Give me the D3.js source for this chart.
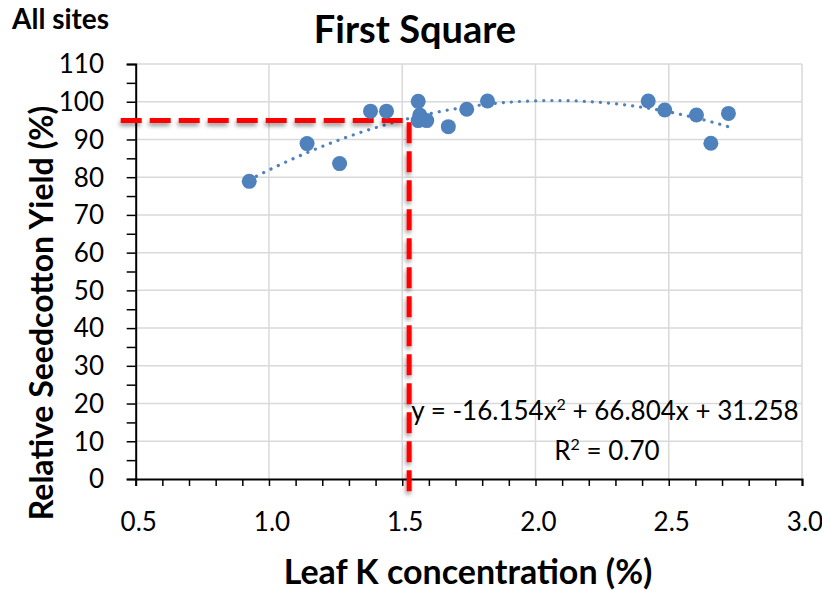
<!DOCTYPE html>
<html>
<head>
<meta charset="utf-8">
<script src="https://cdn.jsdelivr.net/npm/d3@7/dist/d3.min.js"></script>
<style>
  html, body { margin: 0; padding: 0; background: #fff; }
  svg { display: block; font-family: Lato, "Open Sans", sans-serif; }
</style>
</head>
<body>
<svg id="chart" width="822" height="590"></svg>
<script>
// ---- data ----
const leafK = [0.926, 1.143, 1.265, 1.381, 1.441, 1.560, 1.566, 1.592, 1.560, 1.673, 1.742, 1.820, 2.423, 2.485, 2.604, 2.658, 2.724];
const relYield = [78.9, 88.9, 83.6, 97.5, 97.5, 100.1, 96.5, 95.0, 95.0, 93.4, 98.0, 100.2, 100.2, 97.8, 96.5, 89.0, 96.9];
const trendCoef = [-16.154, 66.804, 31.258]; // a, b, c of y = ax^2 + bx + c
const rSquared = "0.70";
const criticalK = 1.526;
const criticalYield = 95;
const xTicks = [0.5, 1.0, 1.5, 2.0, 2.5, 3.0];
const yTicks = [0, 10, 20, 30, 40, 50, 60, 70, 80, 90, 100, 110];
const titleText = "First Square";
const cornerText = "All sites";
const xTitle = "Leaf K concentration (%)";
const yTitle = "Relative Seedcotton Yield (%)";

// ---- layout ----
const svg = d3.select("#chart");
const x = d3.scaleLinear().domain([0.5, 3.0]).range([135.7, 802]);
const y = d3.scaleLinear().domain([0, 110]).range([479, 64]);
const blue = "#4f81bd";

const defs = svg.append("defs");
const f = defs.append("filter").attr("id", "shadow").attr("x", "-20%").attr("y", "-20%").attr("width", "140%").attr("height", "140%");
f.append("feDropShadow").attr("dx", -1).attr("dy", 3).attr("stdDeviation", 2)
  .attr("flood-color", "#000").attr("flood-opacity", 0.4);

// gridlines
const grid = svg.append("g");
grid.selectAll("line.gx").data(xTicks.slice(1)).join("line")
  .attr("x1", d => x(d)).attr("x2", d => x(d)).attr("y1", y(110)).attr("y2", y(0))
  .attr("stroke", "#d9d9d9").attr("stroke-width", 1.5);
grid.selectAll("line.gy").data(yTicks.slice(1)).join("line")
  .attr("x1", x(0.5)).attr("x2", x(3.0)).attr("y1", d => y(d)).attr("y2", d => y(d))
  .attr("stroke", "#d9d9d9").attr("stroke-width", 1.5);

// axes
const xAxis = d3.axisBottom(x).tickValues(d3.range(5, 31).map(v => v / 10)).tickSize(7).tickFormat("");
const gx = svg.append("g").attr("transform", `translate(0,${y(0)})`).call(xAxis);
gx.select(".domain").attr("stroke", "#000").attr("stroke-width", 2);
gx.selectAll(".tick line").attr("stroke", "#000").attr("stroke-width", 1.5);

const yAxis = d3.axisLeft(y).tickValues(d3.range(0, 111, 5)).tickSize(9).tickFormat("");
const gy = svg.append("g").attr("transform", `translate(${x(0.5)},0)`).call(yAxis);
gy.select(".domain").attr("stroke", "#000").attr("stroke-width", 2);
gy.selectAll(".tick line").attr("stroke", "#000").attr("stroke-width", 1.5);

// tick labels
svg.append("g").selectAll("text").data(xTicks).join("text")
  .attr("x", d => x(d) + 3).attr("y", 531).attr("text-anchor", "middle")
  .attr("font-size", 26).attr("fill", "#000").text(d => d.toFixed(1));
svg.append("g").selectAll("text").data(yTicks).join("text")
  .attr("x", 104).attr("y", d => y(d)).attr("dy", "0.36em").attr("text-anchor", "end")
  .attr("font-size", 26).attr("fill", "#000").text(d => d);

// titles
svg.append("text").attr("x", 415).attr("y", 43).attr("text-anchor", "middle")
  .attr("font-size", 38).attr("font-weight", "bold").text(titleText);
svg.append("text").attr("x", 12).attr("y", 29)
  .attr("font-size", 28).attr("font-weight", "bold").text(cornerText);
svg.append("text").attr("x", 468).attr("y", 584).attr("text-anchor", "middle")
  .attr("font-size", 34).attr("font-weight", "bold").text(xTitle);
svg.append("text").attr("transform", "translate(53,313) rotate(-90)").attr("text-anchor", "middle")
  .attr("font-size", 32).attr("font-weight", "bold").text(yTitle);

// trendline
const xmin = d3.min(leafK), xmax = d3.max(leafK);
const trendPts = d3.range(0, 101).map(i => {
  const xv = xmin + (xmax - xmin) * i / 100;
  return [xv, trendCoef[0] * xv * xv + trendCoef[1] * xv + trendCoef[2]];
});
svg.append("path").datum(trendPts)
  .attr("d", d3.line().x(d => x(d[0])).y(d => y(d[1])))
  .attr("fill", "none").attr("stroke", blue).attr("stroke-width", 3.2)
  .attr("stroke-linecap", "round").attr("stroke-dasharray", "0.1 8");

// red critical lines
const red = svg.append("g").attr("filter", "url(#shadow)");
red.append("path")
  .attr("d", `M${x(0.5) - 15},${y(criticalYield)} H${x(criticalK)} V${y(-3.8)}`)
  .attr("fill", "none").attr("stroke", "#ff0000").attr("stroke-width", 5)
  .attr("stroke-dasharray", "21 8");

// points
svg.append("g").selectAll("circle").data(leafK.map((k, i) => [k, relYield[i]])).join("circle")
  .attr("cx", d => x(d[0])).attr("cy", d => y(d[1])).attr("r", 7.5).attr("fill", blue);

// equation
const eq = svg.append("text").attr("x", 605).attr("y", 420).attr("text-anchor", "middle")
  .attr("font-size", 26).attr("fill", "#000");
eq.append("tspan").text("y = " + trendCoef[0] + "x");
eq.append("tspan").attr("dy", -10).attr("font-size", 16).text("2");
eq.append("tspan").attr("dy", 10).text(" + " + trendCoef[1] + "x + " + trendCoef[2]);
const r2 = svg.append("text").attr("x", 607).attr("y", 460).attr("text-anchor", "middle")
  .attr("font-size", 26).attr("fill", "#000");
r2.append("tspan").text("R");
r2.append("tspan").attr("dy", -10).attr("font-size", 16).text("2");
r2.append("tspan").attr("dy", 10).text(" = " + rSquared);
</script>
</body>
</html>
